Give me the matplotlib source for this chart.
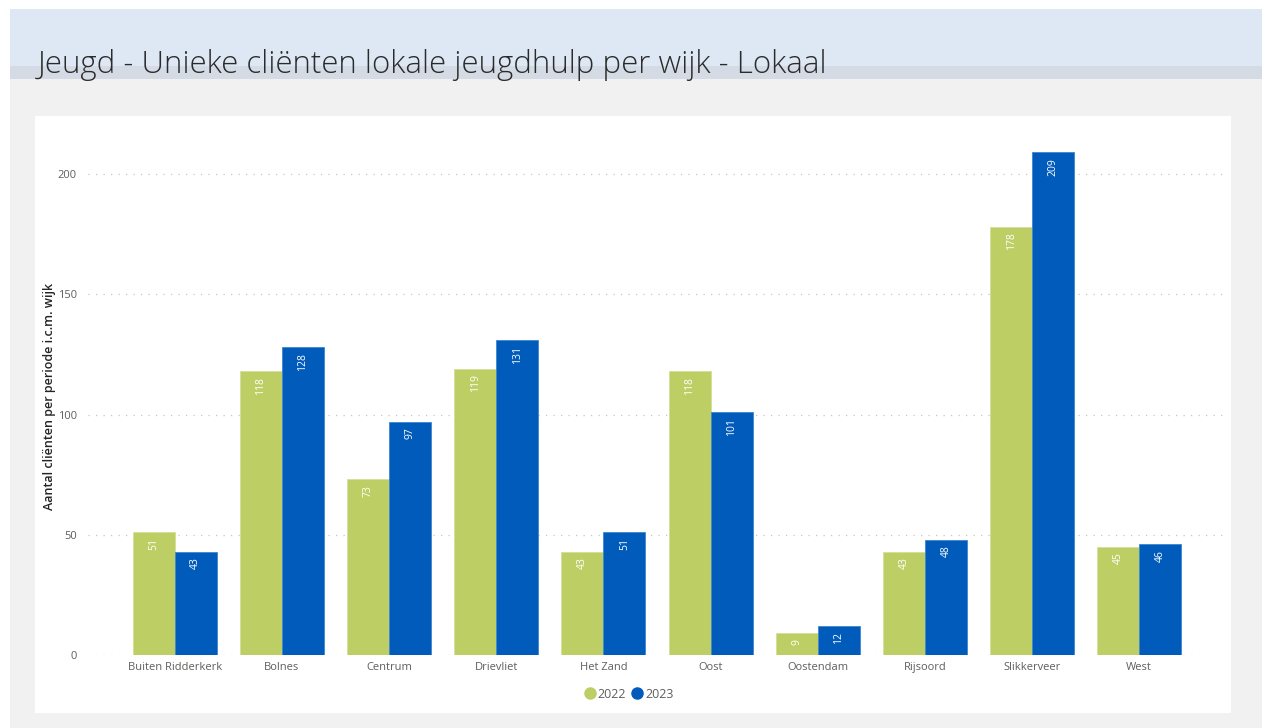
import numpy as np
import matplotlib.pyplot as plt
from matplotlib.patches import Rectangle
from matplotlib.lines import Line2D

# data
wijken = ["Buiten Ridderkerk", "Bolnes", "Centrum", "Drievliet", "Het Zand",
          "Oost", "Oostendam", "Rijsoord", "Slikkerveer", "West"]
jaren = ["2022", "2023"]
clienten_2022 = [51, 118, 73, 119, 43, 118, 9, 43, 178, 45]
clienten_2023 = [43, 128, 97, 131, 51, 101, 12, 48, 209, 46]
y_ticks = [0, 50, 100, 150, 200]

green = "#bdcf64"
blue = "#005bbb"
grey_txt = "#605e5c"
dark_txt = "#252423"
plt.rcParams["font.family"] = ["Open Sans", "DejaVu Sans"]

W, H = 1263, 728
fig = plt.figure(figsize=(W / 100, H / 100), dpi=100)
fig.patch.set_facecolor("white")


def px_rect(x0, y0, x1, y1, color):
    # rectangle in pixel coordinates (top-left origin)
    fig.add_artist(Rectangle((x0 / W, 1 - y1 / H), (x1 - x0) / W, (y1 - y0) / H,
                             transform=fig.transFigure, facecolor=color,
                             edgecolor="none", zorder=0))


# page background and header bands
px_rect(10, 79, 1262, 728, "#f1f1f1")
px_rect(10, 9, 1262, 66, "#dde8f4")
px_rect(10, 66, 1262, 79, "#d5dbe5")
px_rect(35, 116, 1231, 713, "white")

fig.text(38 / W, 1 - 73 / H, "Jeugd - Unieke cliënten lokale jeugdhulp per wijk - Lokaal",
         fontsize=22.5, color="#2b2b2b", ha="left", va="baseline", fontweight="light")

ax = fig.add_axes([88 / W, 1 - 655 / H, (1225 - 88) / W, (655 - 138) / H])
ax.set_facecolor("none")

x = np.arange(len(wijken))
bw = 0.392
b1 = ax.bar(x - bw / 2, clienten_2022, bw, color=green, edgecolor="#d4e09a", linewidth=0.6, zorder=3)
b2 = ax.bar(x + bw / 2, clienten_2023, bw, color=blue, edgecolor="#3d86d0", linewidth=0.6, zorder=3)

for bars in (b1, b2):
    for rect in bars:
        val = rect.get_height()
        ax.annotate(f"{val:g}", (rect.get_x() + rect.get_width() / 2, val),
                    xytext=(0, -4), textcoords="offset points", rotation=90,
                    ha="center", va="top", color="white", fontsize=7.5, zorder=4)

ax.set_xlim(-0.81, 9.8)
ax.set_ylim(0, 215)
ax.set_yticks(y_ticks)
ax.set_xticks(x)
ax.set_xticklabels(wijken)
ax.tick_params(axis="both", length=0, colors=grey_txt, labelsize=8)
ax.tick_params(axis="y", pad=8)
ax.tick_params(axis="x", pad=5)
ax.grid(axis="y", color="#c8c6c4", linestyle=(0, (1, 5)), linewidth=0.9, zorder=0)
for s in ax.spines.values():
    s.set_visible(False)

ax.set_ylabel("Aantal cliënten per periode i.c.m. wijk", fontsize=9, color=dark_txt,
              fontweight="semibold", labelpad=1)

handles = [Line2D([], [], marker="o", linestyle="none", markersize=8, color=green),
           Line2D([], [], marker="o", linestyle="none", markersize=8, color=blue)]
fig.legend(handles, jaren, loc="center", bbox_to_anchor=(628 / W, 1 - 694 / H),
           ncol=2, frameon=False, fontsize=9, labelcolor=grey_txt,
           handletextpad=0.0, columnspacing=0.3, handlelength=1.2)

fig.savefig("out.png", dpi=100)
